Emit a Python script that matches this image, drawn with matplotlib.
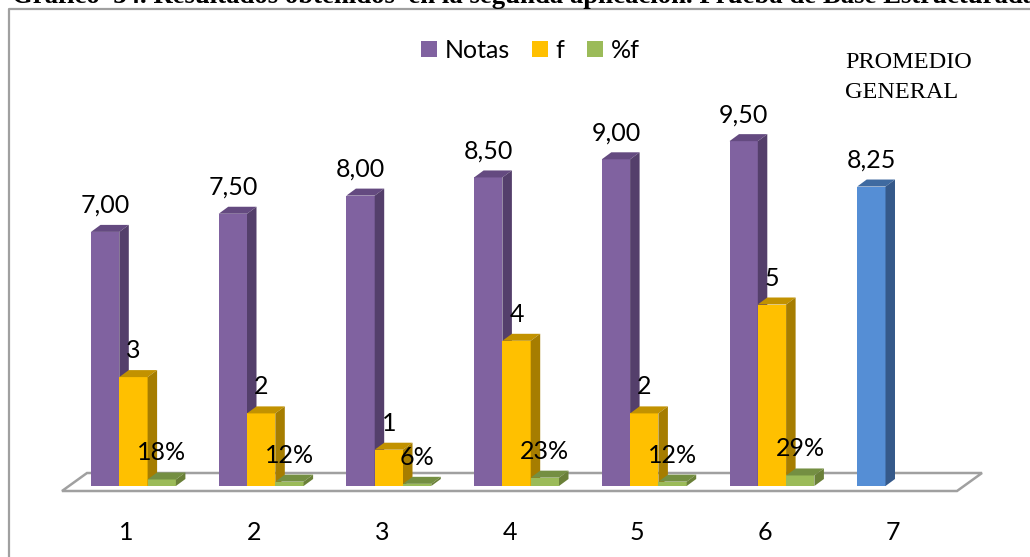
import matplotlib
matplotlib.use('Agg')
import matplotlib.pyplot as plt
from matplotlib.patches import Polygon

categorias = [1, 2, 3, 4, 5, 6]
notas = [7.00, 7.50, 8.00, 8.50, 9.00, 9.50]
f = [3, 2, 1, 4, 2, 5]
pct_f = [0.18, 0.12, 0.06, 0.23, 0.12, 0.29]
promedio_cat = 7
promedio = 8.25
titulo = 'Gráfico  34. Resultados obtenidos  en la segunda aplicación. Prueba de Base Estructurada'

W, H = 1030, 557
base_px = 486
px_x = 127.7      # pixels per category
px_y = 36.3       # pixels per unit of value
cat1_px = 126.5

ancho = 28.3 / px_x
dx = 9.5 / px_x
dy = 7.0 / px_y

morado = ['#8062A0', '#644A80', '#543F6B']
amarillo = ['#FFC000', '#C29200', '#A67D00']
verde = ['#9BBB59', '#748F42', '#6A8038']
azul = ['#558ED5', '#3F6AA0', '#35598A']

fig = plt.figure(figsize=(W / 100, H / 100), dpi=100)
ax = fig.add_axes([0, 1 - base_px / H, 1, base_px / H])
ax.set_xlim(1 - cat1_px / px_x, 1 + (W - cat1_px) / px_x)
ax.set_ylim(0, base_px / px_y)
ax.patch.set_alpha(0)
for s in ax.spines.values():
    s.set_visible(False)
ax.set_yticks([])

fuente = ['Lato', 'DejaVu Sans']
tam = 18


def x_px(p):
    return 1 + (p - cat1_px) / px_x


def y_px(p):
    return (base_px - p) / px_y


# marco
fig.add_artist(plt.Line2D([8.5 / W, 8.5 / W, 1], [0, 1 - 8.5 / H, 1 - 8.5 / H], color='#A0A0A0', lw=1.6))

# titulo cortado por arriba, como en la imagen
fig.text(12 / W, 1 - 3 / H, titulo, family='Liberation Serif', weight='bold', fontsize=19.3,
         ha='left', va='baseline', color='black')

# piso
piso = [(x_px(62), y_px(491)), (x_px(957), y_px(491)), (x_px(982), y_px(473)), (x_px(87), y_px(473))]
ax.add_patch(Polygon(piso, closed=True, facecolor='white', edgecolor='#A0A0A0', lw=1.8, clip_on=False, zorder=1))


def barra3d(x, v, colores, texto=None):
    b = ax.bar(x, v, width=ancho, align='edge', color=colores[0], edgecolor='none', zorder=2)
    top = [(x, v), (x + ancho, v), (x + ancho + dx, v + dy), (x + dx, v + dy)]
    lado = [(x + ancho, 0), (x + ancho + dx, dy), (x + ancho + dx, v + dy), (x + ancho, v)]
    ax.add_patch(Polygon(top, closed=True, facecolor=colores[1], edgecolor='none', zorder=2))
    ax.add_patch(Polygon(lado, closed=True, facecolor=colores[2], edgecolor='none', zorder=2))
    if texto is not None:
        ax.text(x + ancho / 2, v + 26.5 / px_y, texto, ha='center', va='center', family=fuente,
                fontsize=tam, color='black', zorder=5)
    return b


izq = -35.5 / px_x
hs = []
for i, c in enumerate(categorias):
    x0 = c + izq
    b1 = barra3d(x0, notas[i], morado, texto=('%.2f' % notas[i]).replace('.', ','))
    b2 = barra3d(x0 + ancho, f[i], amarillo, texto=str(f[i]))
    b3 = barra3d(x0 + 2 * ancho, pct_f[i], verde, texto='%d%%' % round(pct_f[i] * 100))
    hs = [b1, b2, b3]
barra3d(promedio_cat + izq, promedio, azul, texto=('%.2f' % promedio).replace('.', ','))

ax.set_xticks(categorias + [promedio_cat])
ax.set_xticklabels([str(c) for c in categorias + [promedio_cat]], family=fuente, fontsize=tam)
ax.tick_params(axis='x', length=0, pad=25)

ax.legend(hs, ['Notas', 'f', '%f'], ncol=3, frameon=False, prop={'family': 'Lato', 'size': tam},
          handlelength=0.64, handleheight=0.64, handletextpad=0.3, columnspacing=0.9,
          loc='center left', bbox_to_anchor=(421 / W, 1 - 50.5 / base_px), borderaxespad=0, borderpad=0)

ax.text(x_px(845), y_px(63), 'PROMEDIO', family='Liberation Serif', fontsize=17.5, ha='left', va='center')
ax.text(x_px(845), y_px(93), 'GENERAL', family='Liberation Serif', fontsize=17.5, ha='left', va='center')

fig.savefig('out.png', dpi=100, facecolor='white')
